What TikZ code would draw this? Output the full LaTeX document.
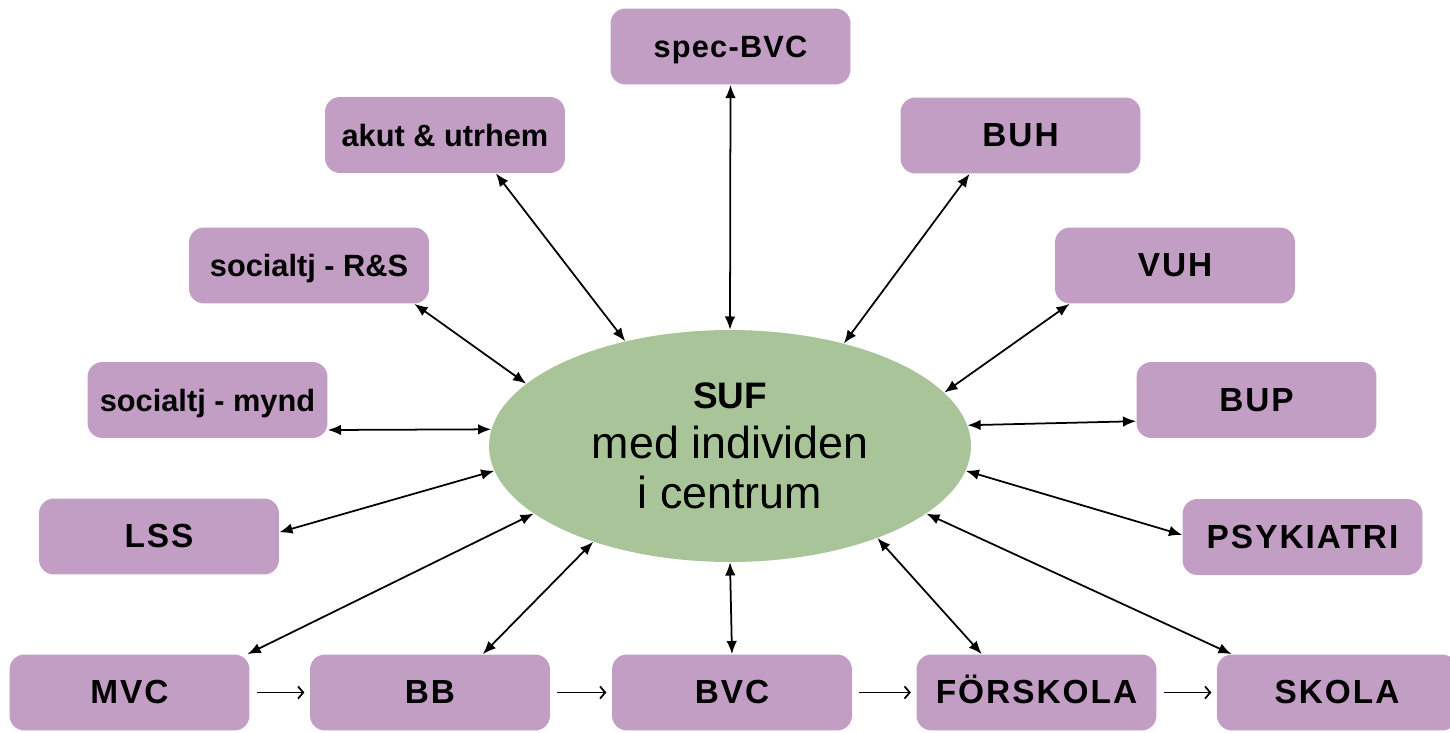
\documentclass[tikz,border=0pt]{standalone}
\usepackage{fontspec}
\setmainfont{Liberation Sans}
\usetikzlibrary{shapes.geometric}
\usetikzlibrary{arrows.meta}

\definecolor{boxlila}{RGB}{194,157,196}
\definecolor{sufgreen}{RGB}{168,196,152}

\newcommand{\captxt}{\fontsize{19}{22}\selectfont\bfseries\addfontfeature{LetterSpace=6}}
\newcommand{\lowtxt}{\fontsize{17.5}{21}\selectfont\bfseries}
\newcommand{\spectxt}{\fontsize{17.5}{21}\selectfont\bfseries\addfontfeature{LetterSpace=4}}

\begin{document}
\begin{tikzpicture}
[x=0.02cm,y=-0.02cm,%
  lilabox/.style={shape=rectangle,rounded corners=0.3cm,fill=boxlila,%
    minimum width=4.8cm,minimum height=1.52cm,inner sep=0pt,%
    text height=13pt,text depth=0pt},%
  link/.style={<->,>={Latex[length=7.5pt,width=6pt]},line width=1pt},%
  flow/.style={->,>={Straight Barb[length=3pt,width=7pt]},line width=1pt,%
    shorten <=4pt,shorten >=3pt}]
\useasboundingbox (0,0) rectangle (1450,733);
% center
\node[ellipse,fill=sufgreen,minimum width=9.64cm,minimum height=4.64cm,
  inner sep=0pt,align=center,font=\fontsize{25.5}{28.5}\selectfont] (suf) at (730,446)
  {{\fontsize{21}{28.5}\selectfont\bfseries SUF}\\med individen\\i centrum};
% boxes round it
\node[lilabox,font=\spectxt] (spec) at (730.5,46.5) {spec-BVC};
\node[lilabox,font=\lowtxt] (akut) at (445,135) {akut \& utrhem};
\node[lilabox,font=\captxt] (buh) at (1020.5,135.5) {BUH};
\node[lilabox,font=\lowtxt] (rs) at (309,265.5) {socialtj - R\&S};
\node[lilabox,font=\captxt] (vuh) at (1175,265.5) {VUH};
\node[lilabox,font=\lowtxt] (mynd) at (207.5,400) {socialtj - mynd};
\node[lilabox,font=\captxt] (bup) at (1256.5,400) {BUP};
\node[lilabox,font=\captxt] (lss) at (159,536.5) {LSS};
\node[lilabox,font=\captxt] (psyk) at (1302.5,537) {PSYKIATRI};
% bottom row
\node[lilabox,font=\captxt] (mvc) at (129.5,692.5) {MVC};
\node[lilabox,font=\captxt] (bb) at (430,692.5) {BB};
\node[lilabox,font=\captxt] (bvc) at (732,692.5) {BVC};
\node[lilabox,font=\captxt] (forskola) at (1036.5,692.5) {FÖRSKOLA};
\node[lilabox,font=\captxt] (skola) at (1337,692.5) {SKOLA};
\path
(spec.south) edge[link] (suf.north)
(akut.-37) edge[link] (suf.135)
(buh.217) edge[link] (suf.42)
(rs.-20) edge[link] (suf.163.4)
(vuh.200) edge[link] (suf.14.4)
(mynd.-14.4) edge[link] (suf.176.5)
(bup.190.3) edge[link] (suf.5.7)
(lss.2) edge[link] (suf.186.3)
(psyk.179) edge[link] (suf.-6.4)
(mvc.18) edge[link] (suf.199.6)
(bb.36.3) edge[link] (suf.215.2)
(bvc.north) edge[link] (suf.south)
(forskola.145.5) edge[link] (suf.-32.4)
(skola.160.5) edge[link] (suf.-19.9);
\path
(mvc) edge[flow] (bb)
(bb) edge[flow] (bvc)
(bvc) edge[flow] (forskola)
(forskola) edge[flow] (skola);
\end{tikzpicture}
\end{document}
